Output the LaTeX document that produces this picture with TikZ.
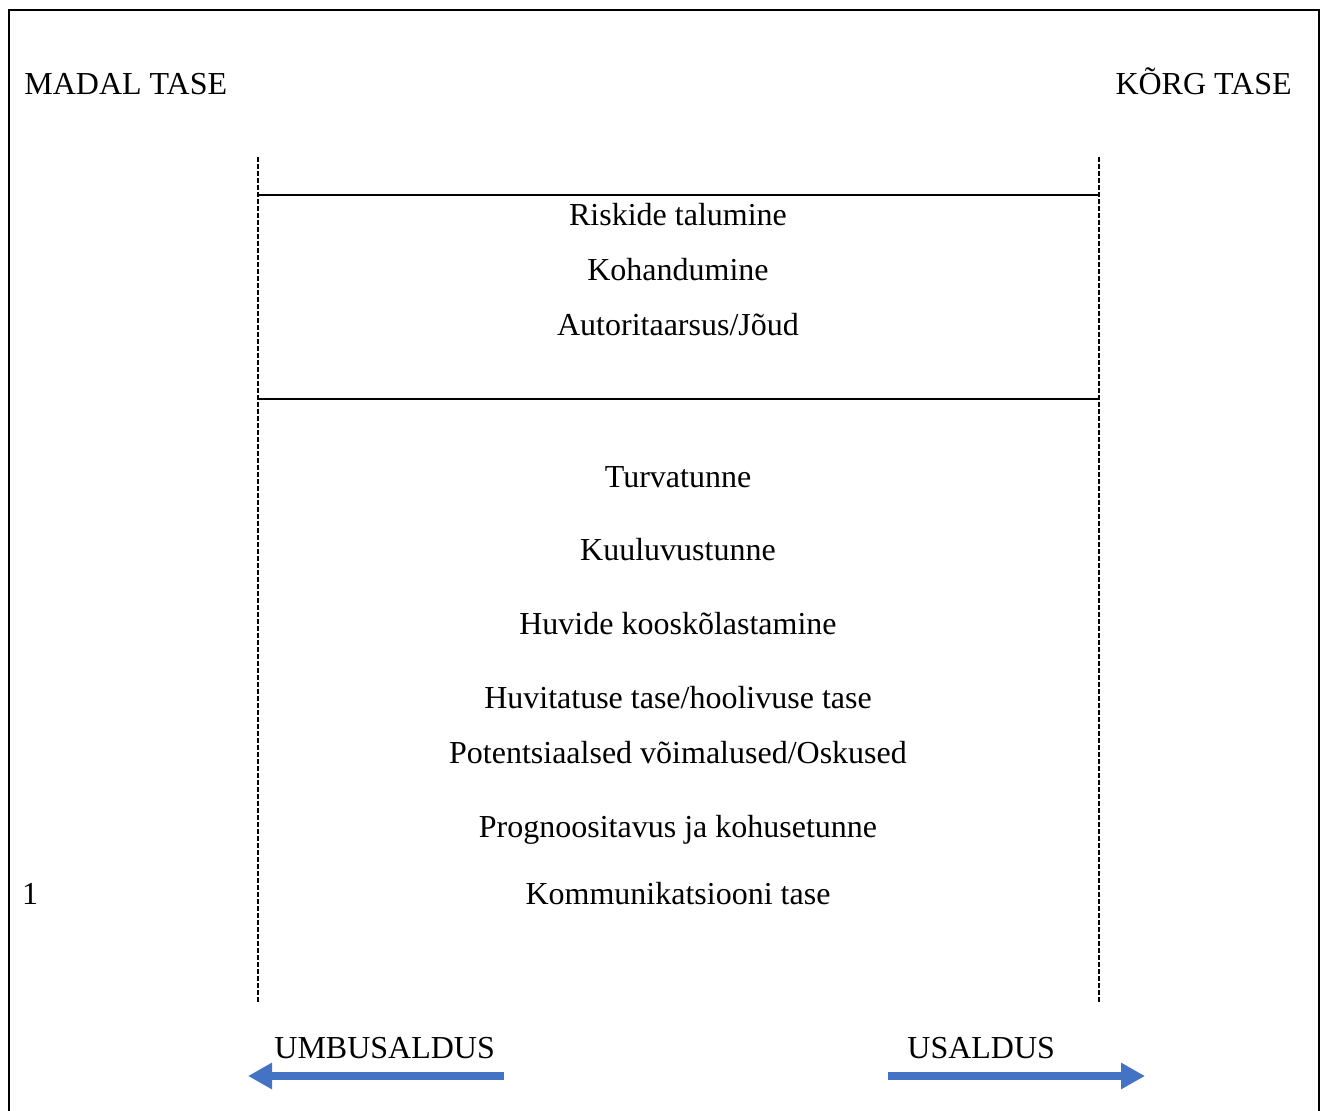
\documentclass[tikz,border=0pt]{standalone}
\usepackage{fontspec}
\setmainfont{Liberation Serif}
\usetikzlibrary{arrows.meta}
\definecolor{nooleblue}{HTML}{4472C4}

\begin{document}
\begin{tikzpicture}[x=0.5pt,y=-0.5pt,
				every node/.style={font=\fontsize{16}{19}\selectfont,inner sep=0pt,anchor=base},
				piir/.style={line width=1.1pt,dash pattern=on 2.5pt off 1pt},
				joon/.style={line width=0.8pt},
				nool/.style={nooleblue,line width=4.2pt,-{Triangle[length=12pt,width=12.5pt]}}
				]
				\useasboundingbox (0,0) rectangle (1328,1111);
				\draw[line width=1pt] (9,1120) -- (9,10) -- (1319,10) -- (1319,1120);
				% tasemed
				\node[anchor=base west](madal) at (24,95){MADAL TASE};
				\node[anchor=base east](korg) at (1292,95){KÕRG TASE};
				% piirjooned
				\coordinate (vy) at (258,157); \coordinate (va) at (258,1003);
				\coordinate (py) at (1099,157); \coordinate (pa) at (1099,1003);
				\draw[piir] (vy) -- (va);
				\draw[piir] (py) -- (pa);
				\draw[joon] (258,195) coordinate (l1) -- (1099,195) coordinate (r1);
				\draw[joon] (258,399) coordinate (l2) -- (1099,399) coordinate (r2);
				% tegurid
				\node(riskid) at (678,226){Riskide talumine};
				\node(kohand) at (678,281){Kohandumine};
				\node(autor) at (678,336){Autoritaarsus/Jõud};
				\node(turva) at (678,488){Turvatunne};
				\node(kuulu) at (678,561){Kuuluvustunne};
				\node(huvid) at (678,635){Huvide kooskõlastamine};
				\node(huvit) at (678,709){Huvitatuse tase/hoolivuse tase};
				\node(potent) at (678,764){Potentsiaalsed võimalused/Oskused};
				\node(progn) at (678,838){Prognoositavus ja kohusetunne};
				\node(kommu) at (678,904){Kommunikatsiooni tase};
				\node(yks) at (30,904){1};
				% usaldus
				\node[anchor=base west](umbus) at (274,1058){UMBUSALDUS};
				\node[anchor=base west](usald) at (907,1058){USALDUS};
				\coordinate (ua) at (504,1076); \coordinate (uo) at (248,1076);
				\coordinate (sa) at (888,1076); \coordinate (so) at (1145,1076);
				\draw[nool] (ua) -- (uo);
				\draw[nool] (sa) -- (so);
				\end{tikzpicture}
\end{document}
